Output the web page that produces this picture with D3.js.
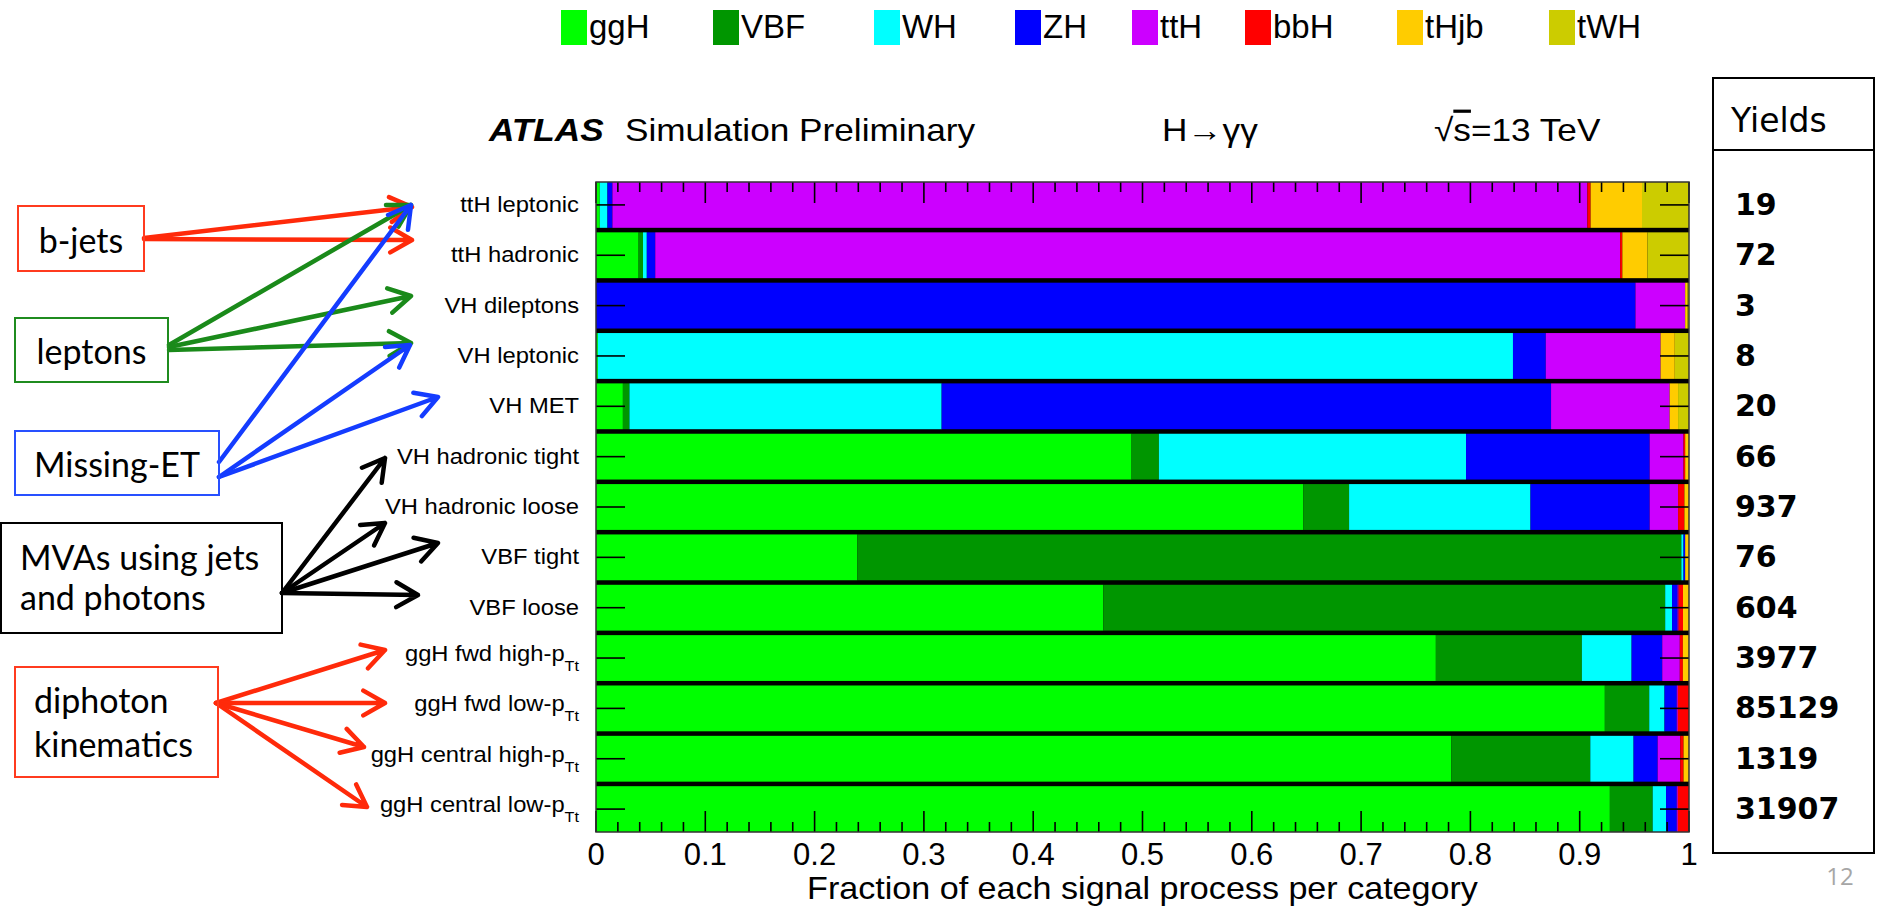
<!DOCTYPE html>
<html>
<head>
<meta charset="utf-8">
<script src="https://cdn.jsdelivr.net/npm/d3@7"></script>
<style>
  body { margin: 0; background: #fff; }
  svg { display: block; }
</style>
</head>
<body>
<svg id="chart" width="1878" height="912"></svg>
<script>
// signal processes and their colours (legend order)
var processes = ["ggH", "VBF", "WH", "ZH", "ttH", "bbH", "tHjb", "tWH"];
var colors = ["#00ff00", "#009600", "#00ffff", "#0000ff", "#cc00ff", "#ff0000", "#ffcc00", "#cccc00"];

// categories, top to bottom
var categories = ["ttH leptonic", "ttH hadronic", "VH dileptons", "VH leptonic", "VH MET",
  "VH hadronic tight", "VH hadronic loose", "VBF tight", "VBF loose",
  "ggH fwd high-p", "ggH fwd low-p", "ggH central high-p", "ggH central low-p"];
var subscripts = ["", "", "", "", "", "", "", "", "", "Tt", "Tt", "Tt", "Tt"];
var yields = [19, 72, 3, 8, 20, 66, 937, 76, 604, 3977, 85129, 1319, 31907];

// fraction of each process per category
var ggH  = [0.0035, 0.039, 0, 0.0017, 0.0246, 0.490, 0.647, 0.239, 0.4645, 0.7684, 0.923, 0.7824, 0.9276];
var VBF  = [0, 0.004, 0, 0, 0.006, 0.025, 0.042, 0.754, 0.5145, 0.1336, 0.0406, 0.1273, 0.0392];
var WH   = [0.007, 0.0035, 0, 0.837, 0.2856, 0.281, 0.166, 0.002, 0.0063, 0.0455, 0.014, 0.0396, 0.0122];
var ZH   = [0.0045, 0.0077, 0.951, 0.030, 0.5575, 0.168, 0.109, 0.0015, 0.005, 0.028, 0.0112, 0.022, 0.0098];
var ttH  = [0.892, 0.883, 0.0455, 0.105, 0.1085, 0.031, 0.026, 0, 0.001, 0.0161, 0.001, 0.0207, 0.001];
var bbH  = [0.003, 0.002, 0, 0, 0, 0.0015, 0.0058, 0, 0.004, 0.0028, 0.0102, 0.003, 0.0102];
var tHjb = [0.047, 0.023, 0.002, 0.013, 0.0077, 0.0035, 0.0042, 0.0035, 0.0055, 0.0056, 0, 0.005, 0];
var tWH  = [0.043, 0.038, 0.0015, 0.013, 0.010, 0, 0, 0, 0, 0, 0, 0, 0];

var xTicks = [0, 0.1, 0.2, 0.3, 0.4, 0.5, 0.6, 0.7, 0.8, 0.9, 1];

var series = { ggH: ggH, VBF: VBF, WH: WH, ZH: ZH, ttH: ttH, bbH: bbH, tHjb: tHjb, tWH: tWH };
var table = categories.map(function (c, i) {
  var row = { category: c };
  processes.forEach(function (p) { row[p] = series[p][i]; });
  return row;
});

var rootFont = "'Liberation Sans', Arial, Helvetica, sans-serif";
var svg = d3.select("#chart");

var plot = { left: 596, right: 1689, top: 182, bottom: 832 };

var x = d3.scaleLinear().domain([0, 1]).range([plot.left, plot.right]);
var y = d3.scaleBand().domain(categories).range([plot.top, plot.bottom]).paddingInner(0.09).paddingOuter(0);
var color = d3.scaleOrdinal().domain(processes).range(colors);

var stack = d3.stack().keys(processes).offset(d3.stackOffsetExpand);
var stacked = stack(table);

// helper: text stretched horizontally like the original slide
function stext(g, tx, ty, k, size, str, anchor) {
  return g.append("text")
    .attr("transform", "translate(" + tx + "," + ty + ") scale(" + k + ",1)")
    .attr("text-anchor", anchor || "start")
    .style("font-family", rootFont)
    .style("font-size", size + "px")
    .text(str);
}

// ---------- legend ----------
var legendX = [561, 713, 874, 1015, 1132, 1245, 1397, 1549];
var legend = svg.append("g").attr("class", "legend");
processes.forEach(function (p, i) {
  legend.append("rect")
    .attr("x", legendX[i]).attr("y", 10)
    .attr("width", 26).attr("height", 35)
    .style("fill", color(p));
  stext(legend, legendX[i] + 28, 38, 0.97, 34, p);
});

// ---------- title ----------
var title = svg.append("g");
stext(title, 489, 141, 1.1, 32, "ATLAS").style("font-weight", "bold").style("font-style", "italic");
stext(title, 625, 141, 1.1, 32, "Simulation Preliminary");
stext(title, 1162, 141, 1.1, 32, "H\u2192\u03b3\u03b3");
var rs = stext(title, 1434, 141, 1.1, 32, "");
rs.append("tspan").text("\u221a");
rs.append("tspan").style("text-decoration", "overline").text("s");
rs.append("tspan").text("=13 TeV");

// ---------- bars ----------
var g = svg.append("g").attr("class", "plot");

g.append("rect")
  .attr("x", plot.left).attr("y", plot.top)
  .attr("width", plot.right - plot.left).attr("height", plot.bottom - plot.top)
  .style("fill", "#000");

g.selectAll("g.layer")
  .data(stacked)
  .enter().append("g")
  .attr("class", "layer")
  .style("fill", function (d) { return color(d.key); })
  .selectAll("rect")
  .data(function (d) { return d; })
  .enter().append("rect")
  .attr("x", function (d) { return x(d[0]); })
  .attr("y", function (d) { return y(d.data.category); })
  .attr("width", function (d) { return Math.max(0, x(d[1]) - x(d[0])); })
  .attr("height", y.bandwidth());

// ticks (ROOT style, pointing inwards)
var minor = x.ticks(50);
var ticks = g.append("g").style("stroke", "#000").style("stroke-width", 1.6);
minor.forEach(function (v) {
  var major = Math.abs(v * 10 - Math.round(v * 10)) < 1e-6;
  var len = major ? 21 : 10;
  ticks.append("line").attr("x1", x(v)).attr("x2", x(v))
    .attr("y1", plot.bottom).attr("y2", plot.bottom - len);
  ticks.append("line").attr("x1", x(v)).attr("x2", x(v))
    .attr("y1", plot.top).attr("y2", plot.top + len);
});
categories.forEach(function (c) {
  var yc = y(c) + y.bandwidth() / 2;
  ticks.append("line").attr("x1", plot.left).attr("x2", plot.left + 29).attr("y1", yc).attr("y2", yc);
  ticks.append("line").attr("x1", plot.right).attr("x2", plot.right - 29).attr("y1", yc).attr("y2", yc);
});

// frame
g.append("rect")
  .attr("x", plot.left).attr("y", plot.top)
  .attr("width", plot.right - plot.left).attr("height", plot.bottom - plot.top)
  .style("fill", "none").style("stroke", "#333").style("stroke-width", 1.5);

// x tick labels
var fmt = d3.format("~g");
xTicks.forEach(function (v) {
  stext(svg, x(v), 865, 1.0, 31, fmt(v), "middle");
});
stext(svg, (plot.left + plot.right) / 2, 899, 1.1, 31, "Fraction of each signal process per category", "middle");

// category labels
categories.forEach(function (c, i) {
  var yc = y(c) + y.bandwidth() / 2;
  var t = stext(svg, 579, yc + (subscripts[i] ? 3 : 7), 1.08, 22, "", "end");
  t.append("tspan").text(c);
  if (subscripts[i]) {
    t.append("tspan").attr("dy", 10).style("font-size", "15px").text(subscripts[i]);
  }
});

// ---------- yields box ----------
var yb = svg.append("g").attr("class", "yields");
yb.append("rect").attr("x", 1713).attr("y", 78).attr("width", 161).attr("height", 775)
  .style("fill", "none").style("stroke", "#000").style("stroke-width", 2);
yb.append("line").attr("x1", 1713).attr("x2", 1874).attr("y1", 150).attr("y2", 150)
  .style("stroke", "#000").style("stroke-width", 2);
yb.append("text").attr("x", 1731).attr("y", 132)
  .style("font-family", "'DejaVu Sans', sans-serif").style("font-size", "33px").text("Yields");
yb.selectAll("text.yv")
  .data(yields)
  .enter().append("text")
  .attr("class", "yv")
  .attr("x", 1735)
  .attr("y", function (d, i) { return y(categories[i]) + y.bandwidth() / 2 + 10; })
  .style("font-family", "'DejaVu Sans', sans-serif")
  .style("font-weight", "bold")
  .style("font-size", "30px")
  .text(function (d) { return d; });

svg.append("text").attr("x", 1840).attr("y", 885).attr("text-anchor", "middle")
  .style("font-family", "'Open Sans', sans-serif").style("font-size", "24px")
  .style("fill", "#a6a6a6").text("12");

// ---------- annotation boxes and arrows ----------
var boxes = [
  { lines: ["b-jets"], x: 18, y: 206, w: 126, h: 65, color: "#ff3b1f", center: true, base: [253] },
  { lines: ["leptons"], x: 15, y: 318, w: 153, h: 64, color: "#1f8c1f", center: true, base: [364] },
  { lines: ["Missing-ET"], x: 15, y: 431, w: 204, h: 64, color: "#2850ff", center: true, base: [477] },
  { lines: ["MVAs using jets", "and photons"], x: 1, y: 523, w: 281, h: 110, color: "#000", tx: 20, base: [570, 610] },
  { lines: ["diphoton", "kinematics"], x: 15, y: 667, w: 203, h: 110, color: "#ff3b1f", tx: 34, base: [713, 757] }
];

var arrows = [
  { c: "#ff2a0a", from: [144, 238], to: [412, 207] },
  { c: "#ff2a0a", from: [144, 239], to: [412, 240] },
  { c: "#1a8a1a", from: [169, 345], to: [411, 205] },
  { c: "#1a8a1a", from: [169, 347], to: [411, 296] },
  { c: "#1a8a1a", from: [169, 350], to: [411, 343] },
  { c: "#143cff", from: [219, 462], to: [411, 205] },
  { c: "#143cff", from: [219, 477], to: [410, 345] },
  { c: "#143cff", from: [219, 477], to: [438, 397] },
  { c: "#000", from: [282, 593], to: [385, 458] },
  { c: "#000", from: [282, 593], to: [385, 523] },
  { c: "#000", from: [282, 593], to: [438, 543] },
  { c: "#000", from: [282, 593], to: [418, 595] },
  { c: "#ff2a0a", from: [216, 703], to: [385, 650] },
  { c: "#ff2a0a", from: [216, 703], to: [385, 703] },
  { c: "#ff2a0a", from: [216, 703], to: [364, 747] },
  { c: "#ff2a0a", from: [216, 703], to: [367, 807] }
];

var ann = svg.append("g").attr("class", "annotations");

function arrowPath(a) {
  var x1 = a.from[0], y1 = a.from[1], x2 = a.to[0], y2 = a.to[1];
  var ang = Math.atan2(y2 - y1, x2 - x1), len = 25, half = 0.52;
  var p = d3.path();
  p.moveTo(x1, y1); p.lineTo(x2, y2);
  p.moveTo(x2 - len * Math.cos(ang - half), y2 - len * Math.sin(ang - half));
  p.lineTo(x2, y2);
  p.lineTo(x2 - len * Math.cos(ang + half), y2 - len * Math.sin(ang + half));
  return p.toString();
}

ann.selectAll("path")
  .data(arrows)
  .enter().append("path")
  .attr("d", arrowPath)
  .style("fill", "none")
  .style("stroke", function (d) { return d.c; })
  .style("stroke-width", 4.5)
  .style("stroke-linecap", "round")
  .style("stroke-linejoin", "round");

boxes.forEach(function (b) {
  ann.append("rect").attr("x", b.x).attr("y", b.y).attr("width", b.w).attr("height", b.h)
    .style("fill", "none").style("stroke", b.color).style("stroke-width", 2);
  b.lines.forEach(function (l, i) {
    ann.append("text")
      .attr("x", b.center ? b.x + b.w / 2 : b.tx)
      .attr("y", b.base[i])
      .attr("text-anchor", b.center ? "middle" : "start")
      .style("font-family", "Lato, 'Open Sans', sans-serif")
      .style("font-size", "34px")
      .text(l);
  });
});
</script>
</body>
</html>
